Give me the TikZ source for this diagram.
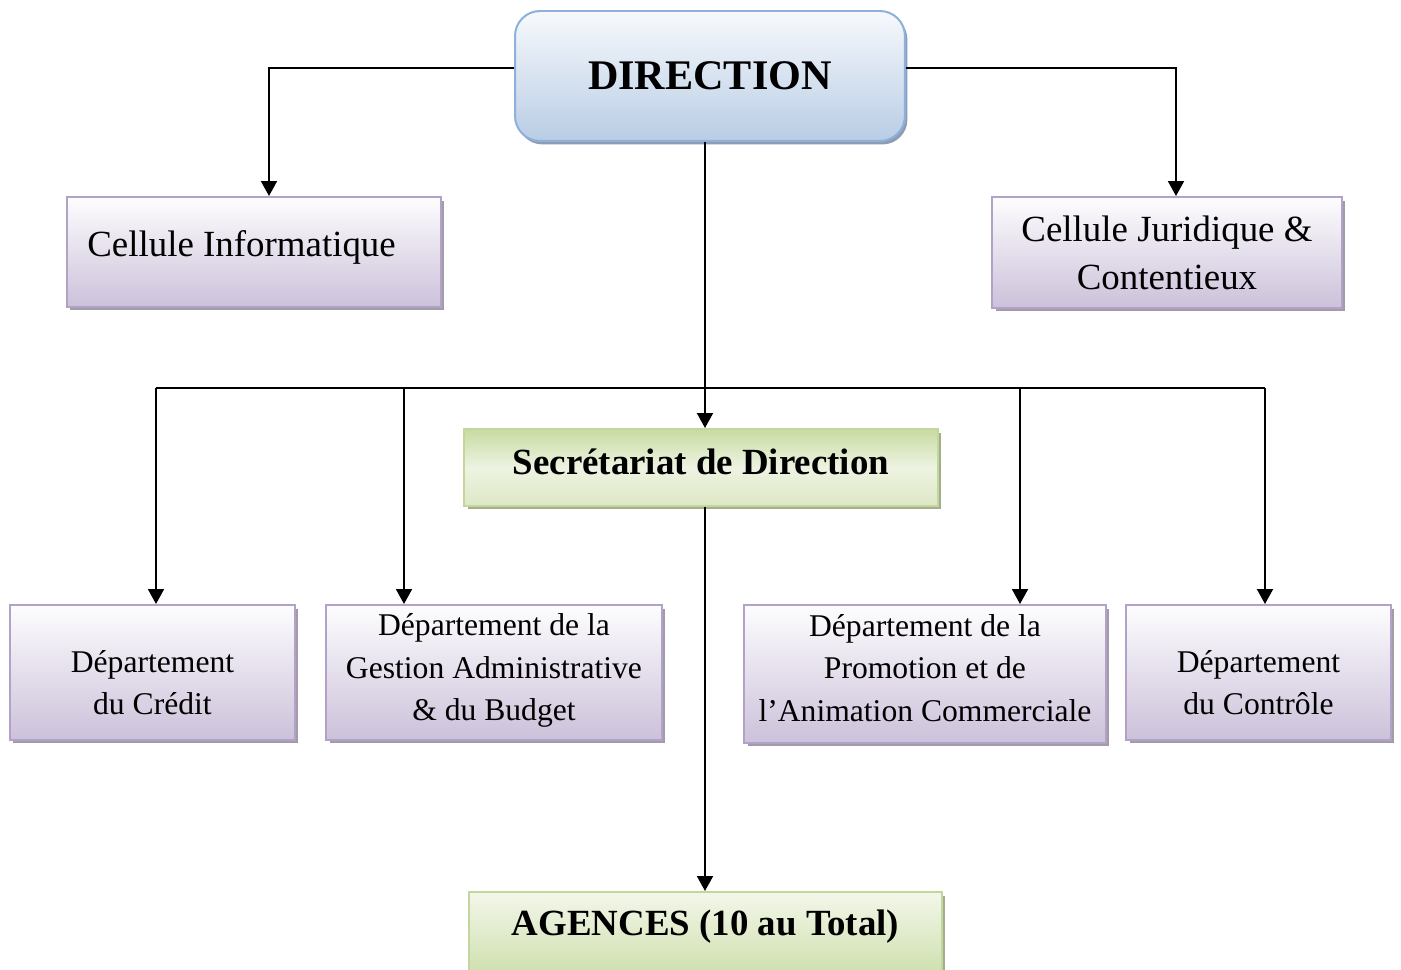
\documentclass[tikz,border=0pt]{standalone}
\usepackage{fontspec}
\setmainfont{Liberation Serif}
\usetikzlibrary{arrows.meta,shadows}
\definecolor{ptop}{HTML}{FDFDFE}
\definecolor{pbot}{HTML}{CCC1DA}
\definecolor{pborder}{HTML}{B3A2C7}
\definecolor{pshadow}{HTML}{A29CAA}
\definecolor{btop}{HTML}{F7F9FC}
\definecolor{bbot}{HTML}{B9CDE5}
\definecolor{bborder}{HTML}{8EB1DA}
\definecolor{bshadow}{HTML}{8C9DB5}
\definecolor{gdark}{HTML}{C8DBA2}
\definecolor{gmid}{HTML}{EDF3E1}
\definecolor{glight}{HTML}{F3F7EA}
\definecolor{gbot}{HTML}{DDE8C6}
\definecolor{gborder}{HTML}{C3D69B}
\definecolor{gshadow}{HTML}{A3AE8C}
\tikzset{
  box/.style={draw, line width=0.04cm, anchor=north west, inner sep=0pt},
  pbox/.style={box, draw=pborder, top color=ptop, bottom color=pbot,
    drop shadow={shadow xshift=0.07cm, shadow yshift=-0.07cm, fill=pshadow, opacity=1}},
  bbox/.style={box, draw=bborder, rounded corners=0.5cm, top color=btop, bottom color=bbot,
    drop shadow={shadow xshift=0.05cm, shadow yshift=-0.07cm, fill=bshadow, opacity=1}},
  gbox/.style={box, draw=gborder,
    drop shadow={shadow xshift=0.07cm, shadow yshift=-0.07cm, fill=gshadow, opacity=1}},
  dtext/.style={font=\fontsize{18}{24.2}\selectfont, align=center, inner sep=0pt},
  ctext/.style={font=\fontsize{21}{27.2}\selectfont, align=center, inner sep=0pt},
  btext/.style={font=\fontsize{21}{27.2}\selectfont\bfseries, inner sep=0pt},
  conn/.style={line width=0.04cm, black},
  arr/.style={conn, -{Triangle[length=0.3cm, width=0.32cm]}}
}
\begin{document}
\begin{tikzpicture}[x=0.02cm, y=-0.02cm]
\useasboundingbox (0,0) rectangle (1401,970);

% boxes
\node[bbox, minimum width=7.8cm, minimum height=2.6cm,
      font=\fontsize{24}{28}\selectfont\bfseries] (dir) at (514,10) {DIRECTION};

\node[pbox, minimum width=7.48cm, minimum height=2.2cm] (ci) at (66,196) {};
\node[ctext, anchor=west] (cit) at ([xshift=0.42cm, yshift=0.1cm]ci.west) {Cellule Informatique};

\node[pbox, minimum width=7.0cm, minimum height=2.22cm] (cj) at (991,196) {};
\node[ctext] (cjt) at (cj.center) {Cellule Juridique \&\\Contentieux};

\node[gbox, top color=gdark, bottom color=gbot, middle color=gmid,
      minimum width=9.48cm, minimum height=1.54cm] (sec) at (463,428) {};
\node[btext] (sect) at ([yshift=0.12cm]sec.center) {Secrétariat de Direction};

\node[gbox, top color=glight, bottom color=gdark!85,
      minimum width=9.46cm, minimum height=1.58cm] (ag) at (468,891) {};
\node[btext] (agt) at ([yshift=0.09cm]ag.center) {AGENCES (10 au Total)};

\node[pbox, minimum width=5.7cm, minimum height=2.7cm] (dc) at (9,604) {};
\node[dtext] (dct) at ([yshift=-0.2cm]dc.center) {Département\\du Crédit};

\node[pbox, minimum width=6.72cm, minimum height=2.7cm] (dg) at (325,604) {};
\node[dtext] (dgt) at ([yshift=0.04cm]dg.center)
      {Département de la\\Gestion Administrative\\\& du Budget};

\node[pbox, minimum width=7.24cm, minimum height=2.76cm] (dp) at (743,604) {};
\node[dtext] (dpt) at ([yshift=0.12cm]dp.center)
      {Département de la\\Promotion et de\\l’Animation Commerciale};

\node[pbox, minimum width=5.3cm, minimum height=2.7cm] (dk) at (1125,604) {};
\node[dtext] (dkt) at ([yshift=-0.2cm]dk.center) {Département\\du Contrôle};

% connectors
\coordinate (xci) at (269,68);
\coordinate (xcj) at (1176,68);
\coordinate (spine) at (705,388);
\coordinate (b1) at (156,388);
\coordinate (b2) at (404,388);
\coordinate (b3) at (1020,388);
\coordinate (b4) at (1265,388);

\draw[arr] (dir.west |- xci) -- (xci) -- (xci |- ci.north);
\draw[arr] (dir.east |- xcj) -- (xcj) -- (xcj |- cj.north);
\draw[arr] (spine |- dir.south) -- (spine |- sec.north);
\draw[conn] (b1) -- (b4);
\draw[arr] (b1) -- (b1 |- dc.north);
\draw[arr] (b2) -- (b2 |- dg.north);
\draw[arr] (b3) -- (b3 |- dp.north);
\draw[arr] (b4) -- (b4 |- dk.north);
\draw[arr] (spine |- sec.south) -- (spine |- ag.north);
\end{tikzpicture}
\end{document}
